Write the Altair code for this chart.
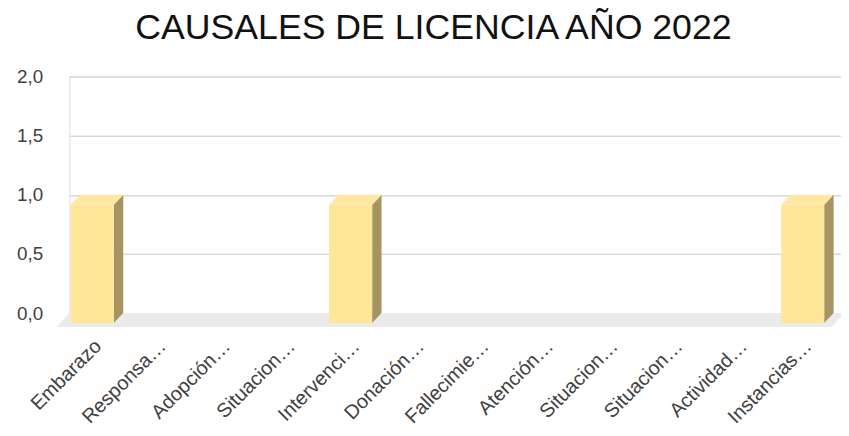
import json
import altair as alt
import pandas as pd

# ---- data ----
labels = ["Embarazo", "Responsa…", "Adopción…", "Situacion…", "Intervenci…",
          "Donación…", "Fallecimie…", "Atención…", "Situacion…", "Situacion…",
          "Actividad…", "Instancias…"]
values = [1, 0, 0, 0, 1, 0, 0, 0, 0, 0, 0, 1]
y_ticks = [0.0, 0.5, 1.0, 1.5, 2.0]
title_text = "CAUSALES DE LICENCIA AÑO 2022"

# ---- layout / style constants ----
W, H = 779, 239
N = len(labels)
UX = 65.2           # px per category unit
XRANGE = UX * N     # category scale range (slightly wider than the wall)
UY = H / 2.0        # px per value unit
BAR_W = 0.667       # bar width in category units
DEPTH_X = -9.5 / UX  # 3D depth (front face is shifted left/down)
DEPTH_Y = -10 / UY
FLOOR_X = -13 / UX
FLOOR_Y = -14 / UY

FRONT = "#FFE699"
TOP = "#FFE8A3"
SIDE = "#A69562"
FLOOR = "#EBEBEB"
FONT = "Liberation Sans"

# ---- derived geometry tables built from the data ----
front_rows, side_rows, top_rows = [], [], []
for i, (lab, v) in enumerate(zip(labels, values)):
    if v <= 0:
        continue
    L = i + 0.5 - BAR_W / 2
    R = i + 0.5 + BAR_W / 2
    front_rows.append(dict(bar=i, xa=L + DEPTH_X, xb=R + DEPTH_X, ya=DEPTH_Y, yb=v + DEPTH_Y))
    side_rows += [dict(bar=i, xa=R + DEPTH_X, ya=DEPTH_Y, yb=v + DEPTH_Y),
                  dict(bar=i, xa=R, ya=0, yb=v)]
    top_rows += [dict(bar=i, xa=L + DEPTH_X, ya=v + DEPTH_Y, yb=v + DEPTH_Y),
                 dict(bar=i, xa=L, ya=v + DEPTH_Y, yb=v),
                 dict(bar=i, xa=R + DEPTH_X, ya=v + DEPTH_Y, yb=v),
                 dict(bar=i, xa=R, ya=v, yb=v)]
floor_rows = [dict(xa=FLOOR_X, ya=FLOOR_Y, yb=FLOOR_Y),
              dict(xa=0.0, ya=FLOOR_Y, yb=0.0),
              dict(xa=N + FLOOR_X, ya=FLOOR_Y, yb=0.0),
              dict(xa=float(N), ya=0.0, yb=0.0)]

xscale = alt.Scale(domain=[0, N], range=[0, XRANGE], nice=False, zero=False)
yscale = alt.Scale(domain=[0, 2], nice=False, zero=False)

label_expr = json.dumps(labels, ensure_ascii=False) + "[floor(datum.value)]"

x_axis = alt.Axis(values=[i + 0.5 for i in range(N)], labelExpr=label_expr,
                  title=None, grid=False, ticks=False, tickSize=0,
                  domain=True, domainColor="#767171", domainWidth=1.5,
                  labelAngle=315, labelAlign="right", labelBaseline="middle",
                  labelPadding=30, labelOffset=-4, labelFont=FONT, labelFontSize=20,
                  labelColor="#404040", zindex=0, labelOverlap=False)
y_axis = alt.Axis(values=y_ticks, title=None, grid=True, gridColor="#D9D9D9",
                  gridWidth=1.5, domain=False, ticks=False, tickSize=0,
                  labelPadding=27, labelFont=FONT, labelFontSize=19,
                  labelColor="#404040", zindex=0,
                  labelExpr="replace(format(datum.value, '.1f'), '.', ',')")

floor = alt.Chart(pd.DataFrame(floor_rows)).mark_area(color=FLOOR, orient="vertical").encode(
    x=alt.X("xa:Q", scale=xscale, axis=x_axis),
    y=alt.Y("ya:Q", scale=yscale, axis=y_axis, stack=None),
    y2="yb:Q",
)

side = alt.Chart(pd.DataFrame(side_rows)).mark_area(color=SIDE, orient="vertical").encode(
    x=alt.X("xa:Q", scale=xscale),
    y=alt.Y("ya:Q", scale=yscale, stack=None),
    y2="yb:Q",
    detail="bar:N",
)

top = alt.Chart(pd.DataFrame(top_rows)).mark_area(color=TOP, orient="vertical").encode(
    x=alt.X("xa:Q", scale=xscale),
    y=alt.Y("ya:Q", scale=yscale, stack=None),
    y2="yb:Q",
    detail="bar:N",
)

front = alt.Chart(pd.DataFrame(front_rows)).mark_rect(color=FRONT).encode(
    x=alt.X("xa:Q", scale=xscale),
    x2="xb:Q",
    y=alt.Y("ya:Q", scale=yscale),
    y2="yb:Q",
)

chart = alt.layer(floor, side, top, front).properties(
    width=W, height=H,
    title=alt.TitleParams(title_text, font=FONT, fontSize=36, fontWeight="normal",
                          color="#111111", anchor="middle", dx=-22, offset=21),
    autosize=alt.AutoSizeParams(type="none"),
    padding={"left": 62, "top": 67, "right": 0, "bottom": 122},
).configure_view(stroke=None).configure(background="white")

chart.save("out.html", embed_options={"renderer": "svg", "actions": False})
